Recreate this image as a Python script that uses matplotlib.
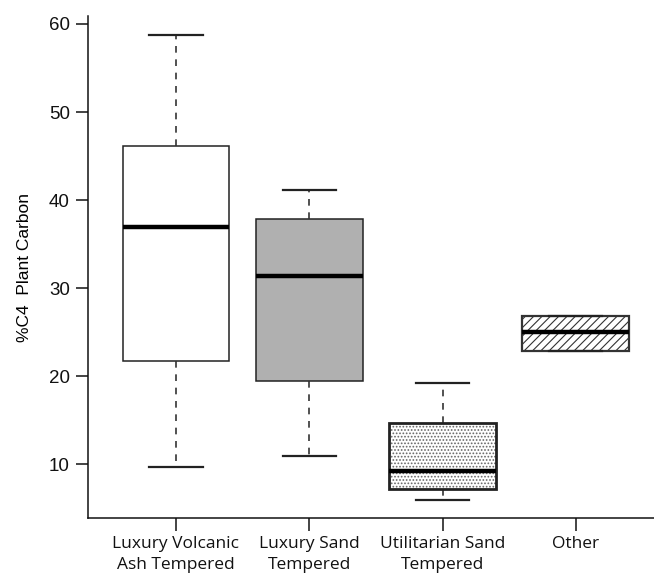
import matplotlib.pyplot as plt
from matplotlib.patches import PathPatch

# Data
categories = ['Luxury Volcanic\nAsh Tempered', 'Luxury Sand\nTempered',
              'Utilitarian Sand\nTempered', 'Other']
whisker_low = [9.7, 11.0, 6.0, 22.9]
q1 = [21.7, 19.5, 7.2, 22.9]
medians = [36.9, 31.4, 9.3, 25.0]
q3 = [46.1, 37.9, 14.7, 26.9]
whisker_high = [58.8, 41.1, 19.25, 26.9]
y_ticks = [10, 20, 30, 40, 50, 60]

stats = []
for lab, lo, a, m, b, hi in zip(categories, whisker_low, q1, medians, q3, whisker_high):
    stats.append({'label': lab, 'whislo': lo, 'q1': a, 'med': m, 'q3': b,
                  'whishi': hi, 'fliers': []})

plt.rcParams['font.family'] = ['Liberation Sans', 'DejaVu Sans']
plt.rcParams['hatch.linewidth'] = 0.8

fig = plt.figure(figsize=(6.54, 5.77), dpi=100)
ax = fig.add_axes([0.1346, 0.1017, 0.8803, 0.8705])

edge = '#222222'
parts = ax.bxp(stats, positions=[1, 2, 3, 4], widths=0.8, patch_artist=True,
               showfliers=False,
               boxprops=dict(edgecolor=edge, linewidth=1.1),
               medianprops=dict(color='black', linewidth=3.2, zorder=5),
               whiskerprops=dict(color='#333333', linewidth=1.2, linestyle=(0, (4, 4))),
               capprops=dict(color=edge, linewidth=1.6),
               capwidths=0.4)

boxes = parts['boxes']
boxes[0].set_facecolor('white')
boxes[1].set_facecolor('#b0b0b0')
boxes[3].set_facecolor('white')
boxes[3].set_edgecolor('#333333')
boxes[3].set_hatch('////')
boxes[3].set_linewidth(1.6)

# stipple texture for the utilitarian box, in grey under the black outline
stip = PathPatch(boxes[2].get_path(), facecolor='white', edgecolor='#666666',
                 linewidth=0, hatch='.....', zorder=boxes[2].get_zorder() + 0.1)
ax.add_patch(stip)
boxes[2].set_facecolor('none')
boxes[2].set_zorder(stip.get_zorder() + 0.1)
boxes[2].set_linewidth(2)

ax.set_xlim(0.34, 4.66)
ax.set_ylim(3.89, 60.9)
ax.set_yticks(y_ticks)
ax.set_xticks([1, 2, 3, 4])
ax.set_xticklabels(categories, fontsize=12.5, family=['Open Sans', 'DejaVu Sans'],
                   linespacing=1.35)
ax.tick_params(axis='y', labelsize=13.5, length=9, width=1.1, pad=4, colors='#111111')
ax.tick_params(axis='x', length=9, width=1.1, pad=4, colors='#111111')

ax.set_ylabel('%C4  Plant Carbon', fontsize=12.5, labelpad=12)

ax.spines['right'].set_visible(False)
ax.spines['top'].set_visible(False)
for s in ['left', 'bottom']:
    ax.spines[s].set_linewidth(1.1)
    ax.spines[s].set_color('#111111')

plt.savefig('out.png', dpi=100)
